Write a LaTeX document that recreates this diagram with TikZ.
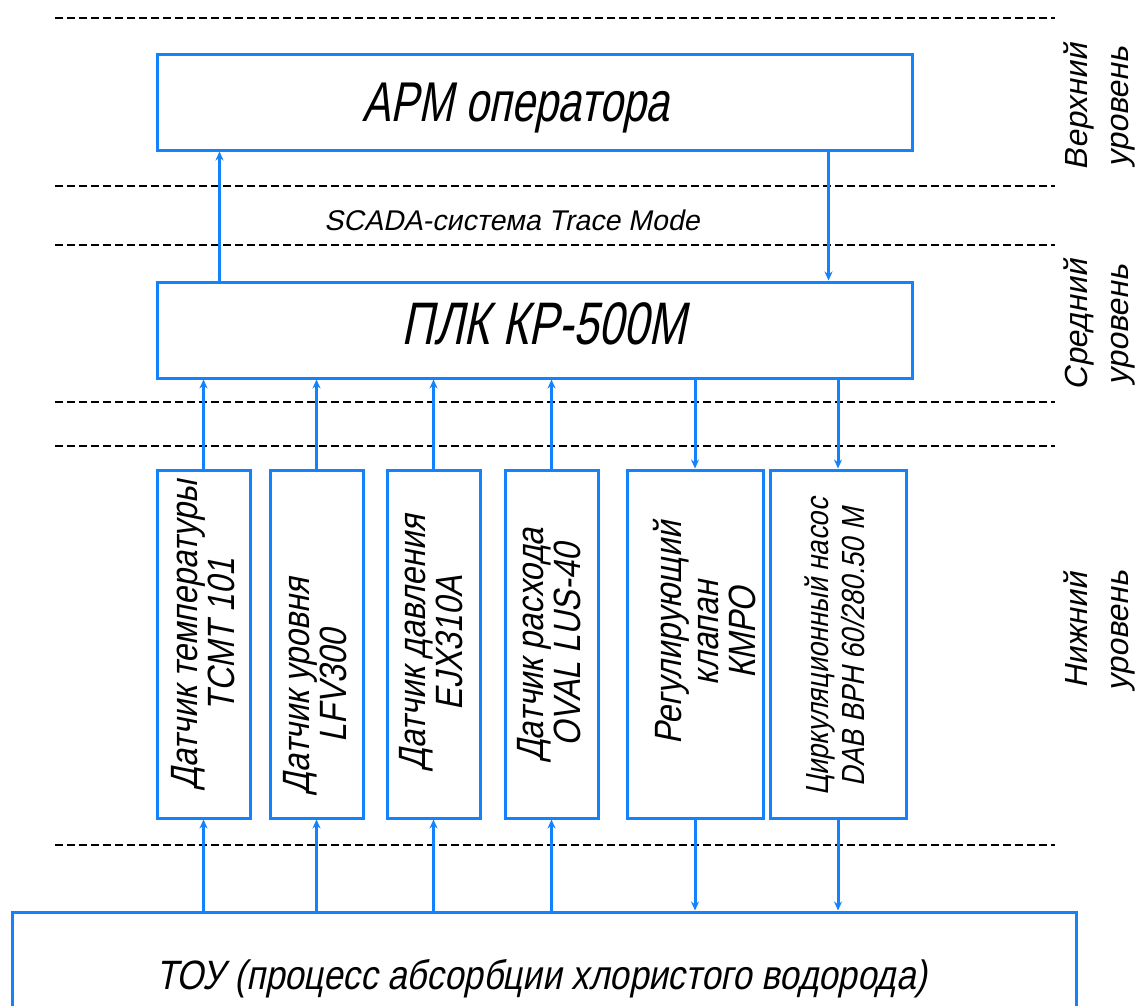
\documentclass[tikz,border=0pt]{standalone}
\usepackage{fontspec}
\setmainfont{Liberation Sans}[FakeStretch=0.85, FakeSlant=0.2]
\newfontfamily\gostnarrow{Liberation Sans}[FakeStretch=0.75, FakeSlant=0.2]
\newfontfamily\gostplain{Liberation Sans}[FakeSlant=0.2]
\usetikzlibrary{arrows.meta,calc}
\definecolor{lineblue}{RGB}{20,130,250}
\tikzset{
  blk/.style={draw=lineblue, line width=3pt, fill=white, inner sep=0pt},
  txt/.style={inner sep=0pt, text=black},
  arr/.style={draw=lineblue, line width=3pt, -{Stealth[length=9pt,width=8pt]}},
  lvl/.style={black, line width=1.5pt, dash pattern=on 8pt off 4pt},
  vtext/.style={txt, rotate=90, align=center, font=\fontsize{38}{37}\selectfont},
  rtext/.style={txt, rotate=90, align=center, font=\gostplain\fontsize{32}{41}\selectfont},
}
\begin{document}
\begin{tikzpicture}[x=1pt,y=-1pt]
\useasboundingbox (0,0) rectangle (1140,1006);
\fill[white] (0,0) rectangle (1140,1006);

% level separators
\foreach \yy in {18,186,245,402,446,845}
  \draw[lvl] (55,\yy) -- (1055,\yy);

% boxes
\node[blk, minimum width=755pt, minimum height=95pt] (arm) at (534.5,102.5) {};
\node[blk, minimum width=755pt, minimum height=96pt] (plk) at (534.5,330) {};
\node[blk, minimum width=93pt, minimum height=348pt] (s1) at (203.5,644) {};
\node[blk, minimum width=93pt, minimum height=348pt] (s2) at (316.5,644) {};
\node[blk, minimum width=93pt, minimum height=348pt] (s3) at (433.5,644) {};
\node[blk, minimum width=93pt, minimum height=348pt] (s4) at (551.5,644) {};
\node[blk, minimum width=136pt, minimum height=348pt] (s5) at (695,644) {};
\node[blk, minimum width=136pt, minimum height=348pt] (s6) at (838,644) {};
\node[blk, minimum width=1064pt, minimum height=142pt] (tou) at (544,983) {};

% box titles
\node[txt, font=\gostnarrow\fontsize{56}{60}\selectfont] (armt) at (516,108) {АРМ оператора};
\node[txt, font=\gostnarrow\fontsize{60}{64}\selectfont] (plkt) at (544,324) {ПЛК КР-500М};
\node[txt, font=\fontsize{41}{46}\selectfont] (tout) at (542,979)
      {ТОУ (процесс абсорбции хлористого водорода)};

% texts in the lower boxes
\node[vtext] (t1) at (203.5,635) {Датчик температуры\\ТСМТ 101};
\node[vtext] (t2) at (315,686) {Датчик уровня\\LFV300};
\node[vtext] (t3) at (431,643) {Датчик давления\\EJX310A};
\node[vtext] (t4) at (549,645) {Датчик расхода\\OVAL LUS-40};
\node[vtext] (t5) at (705,633) {Регулирующий\\клапан\\КМРО};
\node[vtext, font=\fontsize{32}{36}\selectfont] (t6) at (835,647)
      {Циркуляционный насос\\DAB ВРН 60/280.50 М};

% middle text
\node[txt, font=\gostplain\fontsize{28.5}{32}\selectfont] (scada) at (512,220)
      {SCADA-система Trace Mode};

% level names
\node[rtext] (l1) at (1099,107) {Верхний\\уровень};
\node[rtext] (l2) at (1099,325) {Средний\\уровень};
\node[rtext] (l3) at (1099,631) {Нижний\\уровень};

% connectors
\draw[arr] ($(plk.north west)+(64,0)$) -- ($(arm.south west)+(64,0)$);
\draw[arr] ($(arm.south west)+(673,0)$) -- ($(plk.north west)+(673,0)$);
\foreach \s in {s1,s2,s3,s4}{
  \draw[arr] (\s.north) -- (\s.north |- plk.south);
  \draw[arr] (\s.south |- tou.north) -- (\s.south);
}
\foreach \s in {s5,s6}{
  \draw[arr] (\s.north |- plk.south) -- (\s.north);
  \draw[arr] (\s.south) -- (\s.south |- tou.north);
}
\end{tikzpicture}
\end{document}
